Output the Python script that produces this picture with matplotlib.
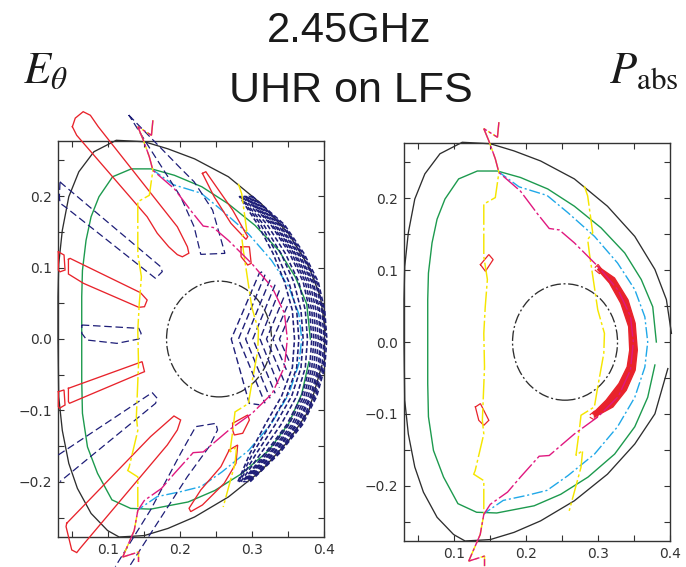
import numpy as np
import matplotlib
matplotlib.use("Agg")
import matplotlib.pyplot as plt
from matplotlib.patches import Ellipse
from matplotlib.ticker import MultipleLocator, FuncFormatter

# ---------------- data ----------------
XLIM = (0.03, 0.40)
YLIM = (-0.277, 0.277)

# outer black boundary (gap on the right near midplane)
BND_X = [0.402, 0.395, 0.379, 0.351, 0.313, 0.267, 0.220, 0.183, 0.150, 0.111, 0.080, 0.059, 0.045, 0.036,
         0.031, 0.030, 0.030, 0.031, 0.036, 0.045, 0.057, 0.076, 0.099, 0.115, 0.150, 0.183, 0.220, 0.267,
         0.313, 0.351, 0.379, 0.397]
BND_Y = [0.012, 0.059, 0.101, 0.147, 0.189, 0.227, 0.252, 0.266, 0.276, 0.278, 0.262, 0.234, 0.199, 0.152,
         0.105, 0.059, 0.0, -0.081, -0.128, -0.174, -0.209, -0.244, -0.268, -0.277, -0.275, -0.265, -0.249,
         -0.221, -0.184, -0.142, -0.100, -0.037]

# green flux surface
GRN_X = [0.381, 0.376, 0.360, 0.337, 0.304, 0.267, 0.230, 0.192, 0.160, 0.132, 0.106, 0.087, 0.076, 0.069,
         0.064, 0.063, 0.063, 0.063, 0.064, 0.071, 0.085, 0.105, 0.131, 0.159, 0.211, 0.248, 0.286, 0.323,
         0.351, 0.369, 0.379]
GRN_Y = [0.0, 0.049, 0.087, 0.124, 0.159, 0.189, 0.213, 0.229, 0.238, 0.238, 0.227, 0.199, 0.171, 0.138,
         0.096, 0.059, 0.0, -0.058, -0.104, -0.151, -0.188, -0.225, -0.237, -0.238, -0.228, -0.212, -0.188,
         -0.156, -0.118, -0.077, -0.032]

# cyan dash-dot curve
CYN_X = [0.160, 0.190, 0.229, 0.258, 0.295, 0.327, 0.351, 0.365, 0.369, 0.365, 0.351, 0.327, 0.295, 0.258,
         0.229, 0.201, 0.168, 0.141]
CYN_Y = [0.238, 0.216, 0.204, 0.180, 0.147, 0.110, 0.073, 0.035, 0.0, -0.035, -0.077, -0.118, -0.156,
         -0.186, -0.2065, -0.2135, -0.2205, -0.239]

# magenta dash-dot curve
MAG_X = [0.162, 0.160, 0.141, 0.148, 0.157, 0.162, 0.192, 0.216, 0.232, 0.246, 0.267, 0.300, 0.328, 0.345,
         0.349, 0.345, 0.328, 0.300, 0.267, 0.232, 0.218, 0.192, 0.174, 0.150, 0.141, 0.136, 0.120, 0.142,
         0.142]
MAG_Y = [0.306, 0.285, 0.297, 0.280, 0.255, 0.236, 0.210, 0.178, 0.158, 0.156, 0.138, 0.105, 0.072, 0.036,
         0.0, -0.039, -0.076, -0.104, -0.128, -0.158, -0.159, -0.188, -0.209, -0.226, -0.240, -0.268, -0.305,
         -0.298, -0.312]

# yellow curves
YL1_X = [0.162, 0.160, 0.141, 0.148, 0.157, 0.162, 0.157, 0.141, 0.141, 0.146, 0.143, 0.141, 0.142, 0.139,
         0.141, 0.129, 0.127, 0.141, 0.141, 0.136, 0.120, 0.142, 0.142]
YL1_Y = [0.306, 0.285, 0.297, 0.280, 0.255, 0.236, 0.201, 0.192, 0.119, 0.087, 0.049, 0.012, -0.035, -0.109,
         -0.128, -0.179, -0.184, -0.193, -0.240, -0.268, -0.305, -0.298, -0.312]
YL2_X = [0.2808, 0.2855, 0.2925, 0.2855, 0.2878, 0.2995, 0.3088, 0.3079, 0.2995, 0.2948, 0.2762, 0.2738,
         0.2692, 0.2785, 0.2762, 0.2598]
YL2_Y = [0.2172, 0.2033, 0.152, 0.1427, 0.124, 0.0448, 0.0121, -0.0159, -0.0625, -0.0904, -0.102, -0.123,
         -0.158, -0.151, -0.1744, -0.235]

# dash-dot black ellipse (centre, width, height)
ELL_C = (0.254, 0.0)
ELL_W = 0.146
ELL_H = 0.162

# --- E_theta: positive (red, solid) contours ---
R1_X = [0.050, 0.054, 0.065, 0.075, 0.086, 0.196, 0.210, 0.212, 0.203, 0.196, 0.184, 0.168, 0.154, 0.056]
R1_Y = [0.297, 0.309, 0.318, 0.313, 0.297, 0.157, 0.129, 0.120, 0.115, 0.118, 0.129, 0.148, 0.171, 0.285]
R2_X = [0.0305, 0.0384, 0.0398, 0.0328, 0.0305]
R2_Y = [0.122, 0.1175, 0.0965, 0.094, 0.0965]
R3_X = [0.0445, 0.0468, 0.1447, 0.154, 0.1503, 0.1424, 0.0654, 0.0445]
R3_Y = [0.1114, 0.1128, 0.0648, 0.0545, 0.0452, 0.0443, 0.0779, 0.0909]
R4_X = [0.0445, 0.147, 0.1503, 0.1447, 0.0459, 0.0445]
R4_Y = [-0.069, -0.0317, -0.0457, -0.048, -0.090, -0.0876]
R5_X = [0.0305, 0.0384, 0.0398, 0.0319, 0.0305]
R5_Y = [-0.0737, -0.0713, -0.0923, -0.097, -0.0946]
R6_X = [0.0421, 0.1587, 0.1913, 0.2006, 0.196, 0.182, 0.0608, 0.0561, 0.0491, 0.0412]
R6_Y = [-0.2578, -0.1366, -0.1077, -0.1133, -0.1273, -0.1483, -0.2928, -0.2988, -0.2951, -0.2625]
R7_X = [0.2309, 0.2356, 0.2729, 0.2939, 0.2915, 0.2706, 0.2472]
R7_Y = [0.2317, 0.234, 0.1804, 0.1431, 0.1394, 0.1618, 0.199]
R8_X = [0.2846, 0.2962, 0.2987, 0.2939, 0.2846]
R8_Y = [0.129, 0.129, 0.1058, 0.1035, 0.1152]
R9_X = [0.2729, 0.2939, 0.2962, 0.2869, 0.2752, 0.2729]
R9_Y = [-0.118, -0.1063, -0.1133, -0.1319, -0.1343, -0.1273]
R10_X = [0.2682, 0.2799, 0.2776, 0.2612, 0.2309, 0.2146, 0.2123, 0.2286, 0.2566]
R10_Y = [-0.1552, -0.1483, -0.1739, -0.2019, -0.2322, -0.2415, -0.2368, -0.2112, -0.1786]

# --- E_theta: negative (navy, dashed) contours ---
B1_X = [0.0328, 0.0351, 0.1727, 0.175, 0.1657, 0.0398, 0.0328, 0.0319]
B1_Y = [0.220, 0.2177, 0.1012, 0.0942, 0.0848, 0.185, 0.190, 0.199]
B2_X = [0.0631, 0.1424, 0.1456, 0.1424, 0.112, 0.0701, 0.0631]
B2_Y = [0.0196, 0.0149, 0.0079, 0.0, -0.0061, -0.0014, 0.0079]
B3_X = [0.0305, 0.161, 0.168, 0.1657, 0.0328]
B3_Y = [-0.1622, -0.075, -0.083, -0.090, -0.1995]
B4_X = [0.1307, 0.168, 0.210, 0.2403, 0.2519, 0.2496, 0.2216, 0.2006, 0.1587, 0.1097]
B4_Y = [-0.316, -0.2578, -0.1925, -0.1506, -0.1273, -0.118, -0.1226, -0.160, -0.2392, -0.3184]
B6_X = [0.1284, 0.2006, 0.2193, 0.245, 0.2622, 0.2286, 0.2193, 0.2006, 0.1563, 0.133]
B6_Y = [0.3133, 0.2387, 0.220, 0.1804, 0.1198, 0.1184, 0.1571, 0.199, 0.269, 0.3063]

# nested chevrons near the UHR layer
C1_X = [0.314, 0.310, 0.271, 0.296, 0.310]
C1_Y = [0.094, 0.092, 0.0, -0.090, -0.092]
C2_X = [0.318, 0.281, 0.318]
C2_Y = [0.090, 0.0, -0.090]
C3_X = [0.325, 0.291, 0.325]
C3_Y = [0.083, 0.0, -0.083]
C4_X = [0.332, 0.301, 0.332]
C4_Y = [0.076, 0.0, -0.076]
C5_X = [0.338, 0.311, 0.338]
C5_Y = [0.068, 0.0, -0.068]
C6_X = [0.344, 0.320, 0.344]
C6_Y = [0.058, 0.0, -0.058]
C7_X = [0.349, 0.329, 0.349]
C7_Y = [0.046, 0.0, -0.046]
C8_X = [0.352, 0.338, 0.352]
C8_Y = [0.032, 0.0, -0.032]

# dense short-wavelength band along the edge
Y_BAND = [0.20, 0.16, 0.12, 0.08, 0.04, 0.0, -0.04, -0.08, -0.12, -0.16, -0.20]
A1_X = [0.300, 0.345, 0.372, 0.392, 0.401, 0.404, 0.401, 0.390, 0.370, 0.338, 0.297]
A1B_X = [0.298, 0.343, 0.370, 0.390, 0.399, 0.402, 0.399, 0.388, 0.368, 0.336, 0.295]
A2_X = [0.296, 0.341, 0.368, 0.388, 0.397, 0.400, 0.397, 0.386, 0.366, 0.334, 0.294]
A2B_X = [0.294, 0.338, 0.365, 0.385, 0.394, 0.397, 0.394, 0.383, 0.363, 0.331, 0.292]
A3_X = [0.293, 0.336, 0.363, 0.383, 0.392, 0.395, 0.392, 0.381, 0.361, 0.329, 0.291]
A3B_X = [0.291, 0.333, 0.360, 0.380, 0.389, 0.392, 0.389, 0.378, 0.358, 0.326, 0.289]
A4_X = [0.290, 0.331, 0.358, 0.377, 0.386, 0.389, 0.386, 0.375, 0.355, 0.324, 0.288]
A4B_X = [0.289, 0.328, 0.355, 0.374, 0.383, 0.386, 0.383, 0.372, 0.351, 0.321, 0.287]
A5_X = [0.288, 0.326, 0.352, 0.371, 0.380, 0.383, 0.380, 0.369, 0.348, 0.318, 0.286]
A6_X = [0.286, 0.321, 0.346, 0.365, 0.374, 0.377, 0.374, 0.362, 0.340, 0.312, 0.284]
A7_X = [0.284, 0.316, 0.340, 0.358, 0.368, 0.371, 0.368, 0.355, 0.332, 0.306, 0.282]
A8_X = [0.283, 0.312, 0.334, 0.351, 0.362, 0.365, 0.362, 0.348, 0.325, 0.301, 0.281]
A9_X = [0.282, 0.308, 0.329, 0.345, 0.356, 0.359, 0.356, 0.341, 0.318, 0.297, 0.280]

# --- P_abs contours (right panel) ---
CR_OUT_X = [0.2995, 0.3228, 0.3415, 0.3515, 0.3545, 0.3515, 0.3391, 0.3205, 0.2948]
CR_OUT_Y = [0.1053, 0.0891, 0.0587, 0.0261, -0.0112, -0.0392, -0.0671, -0.0905, -0.1045]
CR_IN_X = [0.2995, 0.3158, 0.3315, 0.3425, 0.3440, 0.3405, 0.3290, 0.3111, 0.2925]
CR_IN_Y = [0.1007, 0.0821, 0.0541, 0.0214, -0.0112, -0.0345, -0.0578, -0.0811, -0.0997]
TIP1_X = [0.296, 0.300, 0.306, 0.302, 0.296]
TIP1_Y = [0.104, 0.108, 0.100, 0.095, 0.100]
TIP2_X = [0.289, 0.295, 0.300, 0.294, 0.289]
TIP2_Y = [-0.101, -0.096, -0.103, -0.108, -0.105]
RD1_X = [0.1363, 0.148, 0.154, 0.1433, 0.1363]
RD1_Y = [0.1077, 0.1217, 0.1147, 0.0984, 0.1077]
RD2_X = [0.1293, 0.1363, 0.148, 0.141, 0.134, 0.1293]
RD2_Y = [-0.0904, -0.0858, -0.109, -0.116, -0.109, -0.0904]

TITLE1 = "2.45GHz"
TITLE2 = "UHR on LFS"
LEFT_LABEL = r"$E_\theta$"
RIGHT_LABEL = r"$P_{\mathrm{abs}}$"

# ---------------- styling ----------------
C_BLACK = "#2e2e2e"
C_GREEN = "#1d9a4e"
C_CYAN = "#20a8e8"
C_MAG = "#e0187f"
C_YEL = "#f5e600"
C_RED = "#e8232b"
C_NAVY = "#1e1e78"

plt.rcParams["mathtext.fontset"] = "stix"

W, H = 686, 567
fig = plt.figure(figsize=(W / 100, H / 100), dpi=100)

def px_axes(x0, y0, x1, y1):
    return fig.add_axes([x0 / W, 1 - y1 / H, (x1 - x0) / W, (y1 - y0) / H])

axL = px_axes(58, 141, 324, 537)
axR = px_axes(404, 143, 670, 541)


def fmt(v, pos):
    k = v / 0.1
    if abs(k - round(k)) < 1e-6:
        s = f"{abs(v):.1f}"
        return ("\u2212" + s) if v < -1e-9 else s
    return ""


def setup(ax):
    ax.set_xlim(*XLIM)
    ax.set_ylim(*YLIM)
    ax.xaxis.set_major_locator(MultipleLocator(0.05))
    ax.yaxis.set_major_locator(MultipleLocator(0.05))
    ax.xaxis.set_major_formatter(FuncFormatter(fmt))
    ax.yaxis.set_major_formatter(FuncFormatter(fmt))
    ax.tick_params(direction="in", top=True, right=True, length=4, width=0.8,
                   labelsize=10, colors="#333333", pad=4)
    for sp in ax.spines.values():
        sp.set_color("#333333")
        sp.set_linewidth(1.0)


def line(ax, x, y, color, ls="-", lw=0.8, closed=False, z=2):
    x = list(x)
    y = list(y)
    if closed:
        x = x + [x[0]]
        y = y + [y[0]]
    ax.plot(x, y, color=color, ls=ls, lw=lw, clip_on=False, zorder=z,
            solid_joinstyle="miter", dash_joinstyle="miter")


def flux_surfaces(ax):
    line(ax, BND_X, BND_Y, C_BLACK, lw=0.95)
    line(ax, GRN_X, GRN_Y, C_GREEN, lw=1.0)
    line(ax, CYN_X, CYN_Y, C_CYAN, ls=(0, (8, 2, 1.5, 2)), lw=1.0)
    ax.add_patch(Ellipse(ELL_C, ELL_W, ELL_H, fill=False, ec=C_BLACK, lw=0.95,
                         ls=(0, (8, 2, 1.5, 2)), zorder=2))


for ax in (axL, axR):
    setup(ax)
    flux_surfaces(ax)

# ---- left panel: E_theta ----
for xs, ys in [(R1_X, R1_Y), (R2_X, R2_Y), (R3_X, R3_Y), (R4_X, R4_Y), (R5_X, R5_Y), (R6_X, R6_Y),
               (R7_X, R7_Y), (R8_X, R8_Y), (R9_X, R9_Y), (R10_X, R10_Y)]:
    line(axL, xs, ys, C_RED, closed=True, lw=0.95, z=3)

for xs, ys, cl in [(B1_X, B1_Y, True), (B2_X, B2_Y, True), (B3_X, B3_Y, False),
                   (B4_X, B4_Y, False), (B6_X, B6_Y, True)]:
    line(axL, xs, ys, C_NAVY, ls=(0, (6, 3)), closed=cl, lw=0.9, z=3)

for xs, ys in [(C1_X, C1_Y), (C2_X, C2_Y), (C3_X, C3_Y), (C4_X, C4_Y), (C5_X, C5_Y),
               (C6_X, C6_Y), (C7_X, C7_Y), (C8_X, C8_Y)]:
    line(axL, xs, ys, C_NAVY, ls=(0, (5, 2.5)), lw=1.0, z=3)

BAND = [A1_X, A1B_X, A2_X, A2B_X, A3_X, A3B_X, A4_X, A4B_X, A5_X, A6_X, A7_X, A8_X, A9_X]
for i, xs in enumerate(BAND):
    line(axL, xs, Y_BAND, C_NAVY, ls=(i * 0.9, (3, 1.6)), lw=1.15, z=3)

# ---- right panel: P_abs ----
cx = list(CR_OUT_X) + list(CR_IN_X)[::-1]
cy = list(CR_OUT_Y) + list(CR_IN_Y)[::-1]
axR.fill(cx, cy, color=C_RED, lw=0, zorder=3)
line(axR, CR_OUT_X, CR_OUT_Y, C_RED, lw=1.0, z=4)
line(axR, CR_IN_X, CR_IN_Y, C_RED, lw=1.0, z=4)
line(axR, TIP1_X, TIP1_Y, C_RED, lw=0.8, z=4)
line(axR, TIP2_X, TIP2_Y, C_RED, lw=0.8, z=4)
line(axR, RD1_X, RD1_Y, C_RED, lw=0.9, z=4)
line(axR, RD2_X, RD2_Y, C_RED, lw=0.9, z=4)

# yellow and magenta rays on both panels
for ax in (axL, axR):
    line(ax, YL1_X, YL1_Y, C_YEL, ls=(0, (14, 2, 2, 2)), lw=1.05, z=5)
    line(ax, YL2_X, YL2_Y, C_YEL, ls=(0, (14, 2, 2, 2)), lw=1.05, z=5)
    line(ax, MAG_X, MAG_Y, C_MAG, ls=(0, (14, 2, 2, 2)), lw=1.0, z=6)

# ---- texts ----
fig.text(349 / W, 1 - 42 / H, TITLE1, ha="center", va="baseline", fontsize=30,
         family="Liberation Sans", color="#1a1a1a")
fig.text(351 / W, 1 - 102 / H, TITLE2, ha="center", va="baseline", fontsize=31,
         family="Liberation Sans", color="#1a1a1a")
fig.text(23 / W, 1 - 83 / H, LEFT_LABEL, ha="left", va="baseline", fontsize=32, color="#1a1a1a")
fig.text(609 / W, 1 - 83 / H, RIGHT_LABEL, ha="left", va="baseline", fontsize=32, color="#1a1a1a")

fig.savefig("out.png", dpi=100)
